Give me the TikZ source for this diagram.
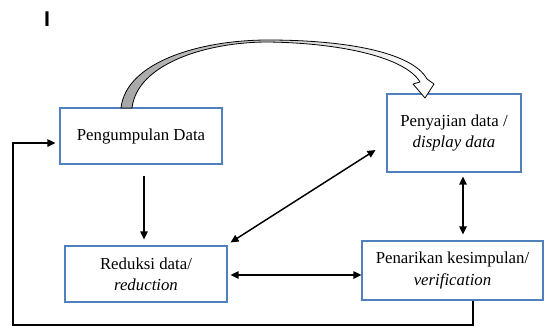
\documentclass[tikz,border=0pt]{standalone}
\usepackage{fontspec}
\setmainfont{Liberation Serif}
\newfontfamily\labelsans{Liberation Sans}
\usetikzlibrary{calc,arrows.meta}
\definecolor{boxblue}{RGB}{79,129,189}
\tikzset{
  stagebox/.style={draw=boxblue, line width=0.8pt, align=center, inner sep=0pt,
    font=\fontsize{12.6}{16}\selectfont},
  link/.style={line width=1.1pt, -{Triangle[length=6pt,width=5.5pt]}},
  twoway/.style={line width=1.1pt, {Triangle[length=6pt,width=5.5pt]}-{Triangle[length=6pt,width=5.5pt]}},
}
\begin{document}
\begin{tikzpicture}[x=0.75pt, y=-0.75pt]
\useasboundingbox (0,0) rectangle (545,329);

% stray mark at the top left
\node[font=\labelsans\bfseries\fontsize{16}{16}\selectfont, inner sep=0pt] (mark) at (47,19) {I};

% the four stages
\node[stagebox, minimum width=121.5pt, minimum height=42pt] (b1) at (141,136) {Pengumpulan Data};
\node[stagebox, minimum width=121.5pt, minimum height=42pt] (b2) at (146,274) {Reduksi data/\\\textit{reduction}};
\node[stagebox, minimum width=100.5pt, minimum height=58.5pt] (b3) at (454,133) {Penyajian data /\\\textit{display data}};
\node[stagebox, minimum width=135.75pt, minimum height=44.25pt] (b4) at (452.5,270.5) {Penarikan kesimpulan/\\\textit{verification}};

% curved block arrow from data collection to data display
\draw[line width=0.6pt, left color=black!35, right color=white, line join=round]
  (121,108) .. controls (126,62) and (200,40) .. (268,40)
  .. controls (345,40) and (412,52) .. (427,79)
  -- (434,84) -- (425,98) -- (413,84) -- (420,82)
  .. controls (405,57) and (340,43) .. (268,42)
  .. controls (206,42) and (137,64) .. (132,108) -- cycle;

% straight connectors
\draw[link] ($(b1.south)+(3,11)$) -- ($(b1.south |- b2.north)+(3,-6)$);
\draw[twoway] ($(b2.north east)+(3,-3)$) -- ($(b3.west)+(-11,17)$);
\draw[twoway] ($(b2.east)+(3,1)$) -- ($(b2.east -| b4.west)+(0,1)$);
\draw[twoway] ($(b3.south)+(9,4)$) -- ($(b3.south |- b4.north)+(9,-6)$);

% feedback loop back to data collection
\coordinate (fb) at (13,325);
\draw[link, line join=miter] ($(b4.south)+(20.5,0)$) |- (fb) |- ($(b1.west)+(-4,7)$);
\end{tikzpicture}
\end{document}
